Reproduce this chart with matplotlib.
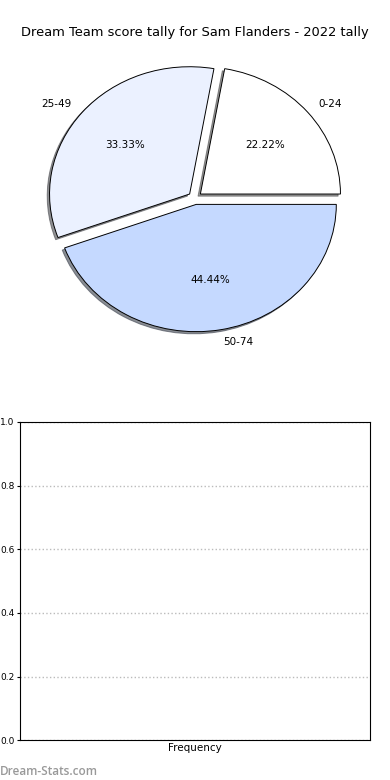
import matplotlib
matplotlib.use('Agg')
import matplotlib.pyplot as plt

# score bands and how many games fell in each
bands = ['0-24', '25-49', '50-74']
counts = [2, 3, 4]
slice_colors = ['#FFFFFF', '#EBF1FF', '#C5D9FF']

yticks = [0.0, 0.2, 0.4, 0.6, 0.8, 1.0]

fig = plt.figure(figsize=(3.9, 7.8), dpi=100)

ax1 = fig.add_axes([0.051, 0.542, 0.898, 0.408])
ax1.pie(counts, labels=bands, colors=slice_colors, autopct='%1.2f%%',
        explode=[0.05] * len(counts),
        shadow={'ox': -0.012, 'oy': -0.012, 'alpha': 0.6},
        startangle=0,
        wedgeprops={'edgecolor': 'black', 'linewidth': 0.7},
        textprops={'fontsize': 7.5})
ax1.set_aspect('auto')
ax1.set_xlim(-1.25, 1.25)
ax1.set_ylim(-1.25, 1.25)
ax1.set_title('Dream Team score tally for Sam Flanders - 2022 tally',
              fontsize=9.4, pad=1)

ax2 = fig.add_axes([0.051, 0.051, 0.898, 0.408])
ax2.set_ylim(0, 1)
ax2.set_yticks(yticks)
ax2.set_xticks([])
ax2.tick_params(axis='y', labelsize=6.5, length=2, pad=2)
ax2.yaxis.grid(True, linestyle=':', color='#bbbbbb', linewidth=1)
ax2.set_xlabel('Frequency', fontsize=7.5, labelpad=2)

fig.text(0.0, 0.007, 'Dream-Stats.com', color='#999999', fontsize=8.5,
         fontweight='semibold', family='Open Sans')

fig.savefig('out.png', dpi=100)
